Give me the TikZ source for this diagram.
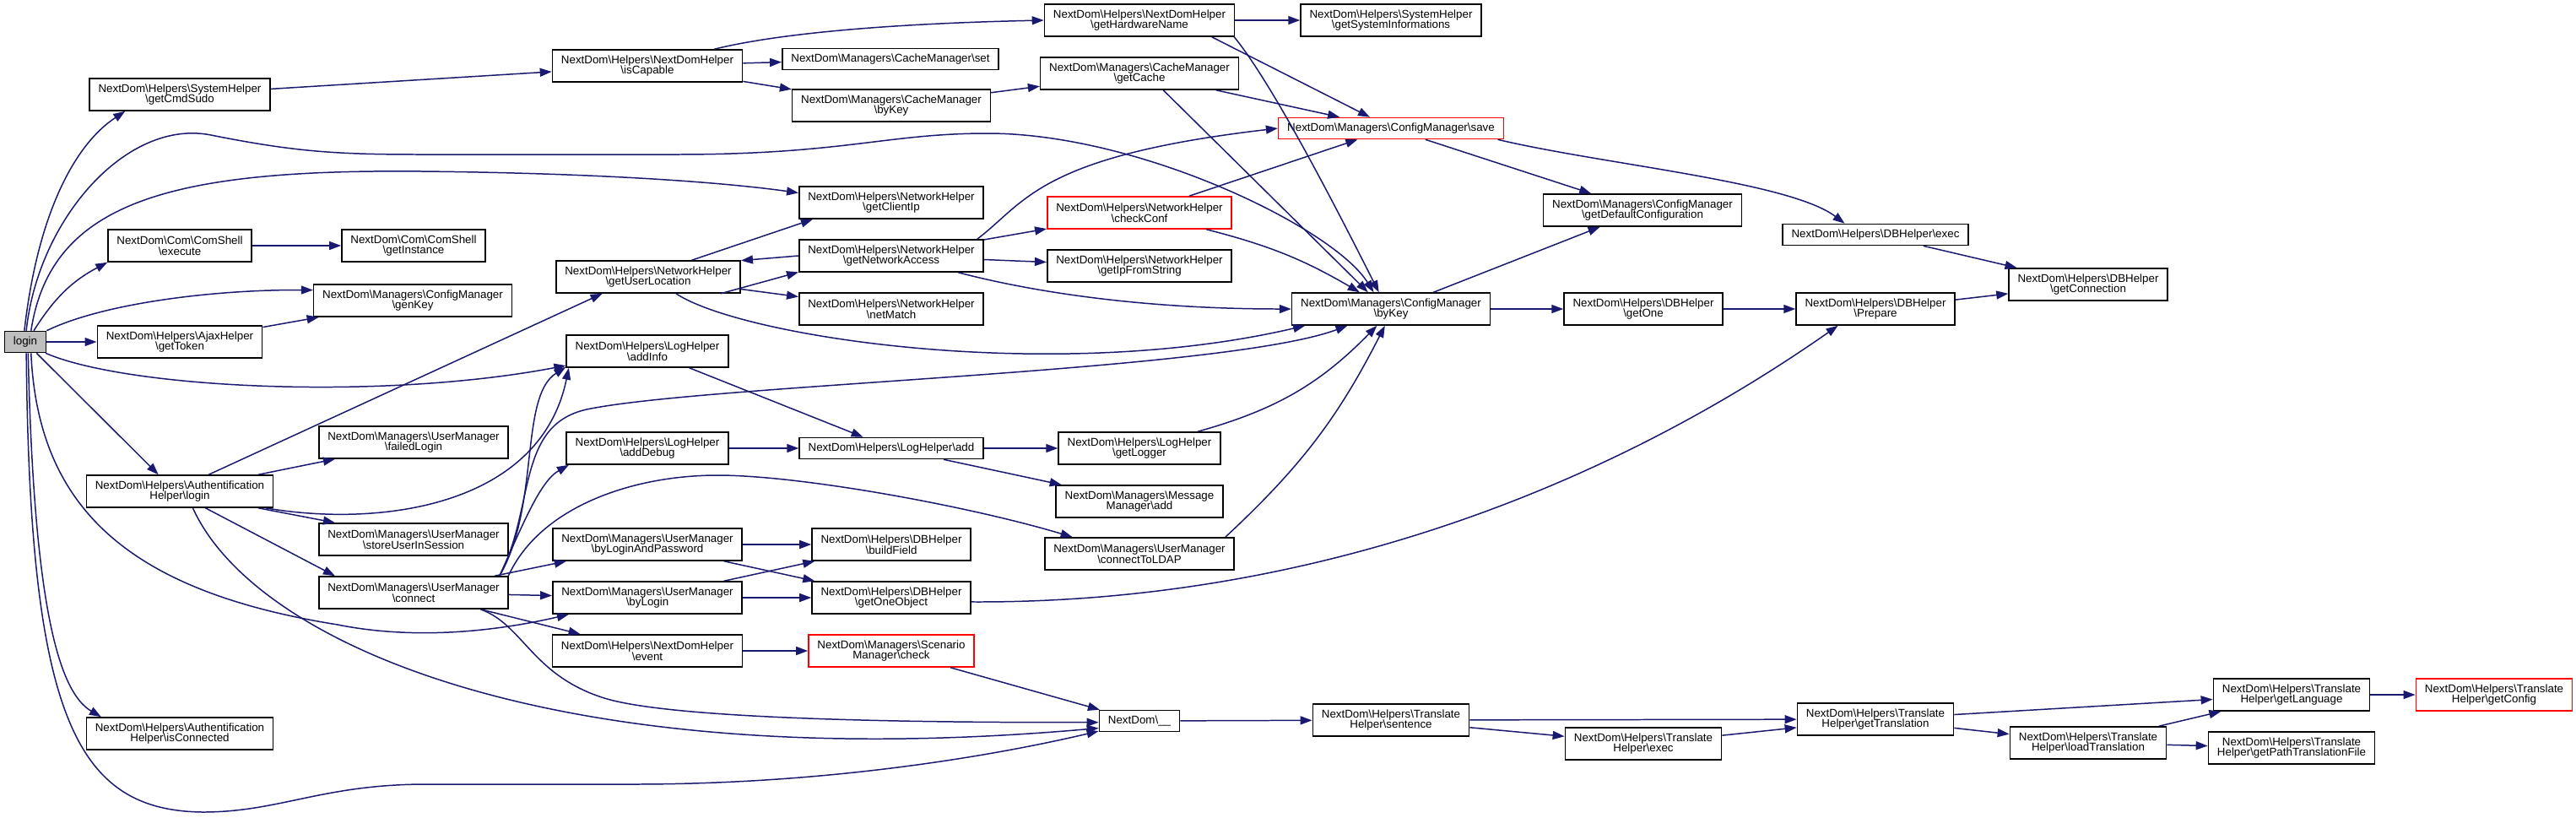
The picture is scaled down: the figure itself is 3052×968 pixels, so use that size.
\documentclass[tikz,border=0pt]{standalone}
\usepackage{fontspec}
\setmainfont{Liberation Sans}
\usetikzlibrary{arrows.meta}

\definecolor{edgeblue}{HTML}{191970}
\definecolor{loginfill}{HTML}{BFBFBF}
\newcommand{\bs}{\textbackslash}

\begin{document}
\begin{tikzpicture}[
    x=0.02cm, y=-0.02cm,
    >={Triangle[length=0.28cm, width=0.2cm]},
    func/.style={draw=black, line width=0.9pt, fill=white, align=center,
        font=\fontsize{7.6pt}{7.2pt}\selectfont,
        inner xsep=0.21cm, inner ysep=0pt, minimum height=0.5cm},
    func2/.style={func, minimum height=0.76cm},
    hot/.style={draw=red},
    call/.style={->, draw=edgeblue, line width=0.85pt}
]
\useasboundingbox (0,0) rectangle (3052,968);

% ==================== NODES ====================
% Root
\node[func, fill=loginfill] (login) at (30,405) {login};

% First column
\node[func2] (cmdsudo) at (213,112) {NextDom\bs Helpers\bs SystemHelper\\\bs getCmdSudo};
\node[func2] (execute) at (213,291) {NextDom\bs Com\bs ComShell\\\bs execute};
\node[func2] (gettoken) at (213,405) {NextDom\bs Helpers\bs AjaxHelper\\\bs getToken};
\node[func2] (authlogin) at (213,582) {NextDom\bs Helpers\bs Authentification\\Helper\bs login};
\node[func2] (isconnected) at (213,869) {NextDom\bs Helpers\bs Authentification\\Helper\bs isConnected};

% Second column
\node[func2] (instance) at (490,291) {NextDom\bs Com\bs ComShell\\\bs getInstance};
\node[func2] (genkey) at (489,356) {NextDom\bs Managers\bs ConfigManager\\\bs genKey};
\node[func2] (failedlogin) at (490,524) {NextDom\bs Managers\bs UserManager\\\bs failedLogin};
\node[func2] (storeuser) at (490,639) {NextDom\bs Managers\bs UserManager\\\bs storeUserInSession};
\node[func2] (connect) at (490,702) {NextDom\bs Managers\bs UserManager\\\bs connect};

% Third column
\node[func2] (iscapable) at (767,78) {NextDom\bs Helpers\bs NextDomHelper\\\bs isCapable};
\node[func2] (userloc) at (768,328) {NextDom\bs Helpers\bs NetworkHelper\\\bs getUserLocation};
\node[func2] (addinfo) at (767,416) {NextDom\bs Helpers\bs LogHelper\\\bs addInfo};
\node[func2] (adddebug) at (767,531) {NextDom\bs Helpers\bs LogHelper\\\bs addDebug};
\node[func2] (byloginpw) at (767,645) {NextDom\bs Managers\bs UserManager\\\bs byLoginAndPassword};
\node[func2] (bylogin) at (767,708) {NextDom\bs Managers\bs UserManager\\\bs byLogin};
\node[func2] (event) at (767,771) {NextDom\bs Helpers\bs NextDomHelper\\\bs event};

% Fourth column
\node[func] (cacheset) at (1055,70) {NextDom\bs Managers\bs CacheManager\bs set};
\node[func2] (cachebykey) at (1056,125) {NextDom\bs Managers\bs CacheManager\\\bs byKey};
\node[func2] (clientip) at (1056,240) {NextDom\bs Helpers\bs NetworkHelper\\\bs getClientIp};
\node[func2] (netaccess) at (1056,303) {NextDom\bs Helpers\bs NetworkHelper\\\bs getNetworkAccess};
\node[func2] (netmatch) at (1056,366) {NextDom\bs Helpers\bs NetworkHelper\\\bs netMatch};
\node[func] (logadd) at (1056,531) {NextDom\bs Helpers\bs LogHelper\bs add};
\node[func2] (buildfield) at (1056,645) {NextDom\bs Helpers\bs DBHelper\\\bs buildField};
\node[func2] (oneobject) at (1056,708) {NextDom\bs Helpers\bs DBHelper\\\bs getOneObject};
\node[func2, hot] (scenario) at (1056,771) {NextDom\bs Managers\bs Scenario\\Manager\bs check};

% Fifth column
\node[func2] (hwname) at (1350,24) {NextDom\bs Helpers\bs NextDomHelper\\\bs getHardwareName};
\node[func2] (getcache) at (1350,87) {NextDom\bs Managers\bs CacheManager\\\bs getCache};
\node[func2, hot] (checkconf) at (1350,252) {NextDom\bs Helpers\bs NetworkHelper\\\bs checkConf};
\node[func2] (ipfromstr) at (1350,315) {NextDom\bs Helpers\bs NetworkHelper\\\bs getIpFromString};
\node[func2] (logger) at (1350,531) {NextDom\bs Helpers\bs LogHelper\\\bs getLogger};
\node[func2] (msgadd) at (1350,594) {NextDom\bs Managers\bs Message\\Manager\bs add};
\node[func2] (ldap) at (1350,656) {NextDom\bs Managers\bs UserManager\\\bs connectToLDAP};
\node[func] (translate) at (1350,854) {NextDom\bs\_\_};

% Sixth column
\node[func2] (sysinfo) at (1648,24) {NextDom\bs Helpers\bs SystemHelper\\\bs getSystemInformations};
\node[func, hot] (cfgsave) at (1648,152) {NextDom\bs Managers\bs ConfigManager\bs save};
\node[func2] (cfgbykey) at (1648,366) {NextDom\bs Managers\bs ConfigManager\\\bs byKey};
\node[func2] (sentence) at (1648,853) {NextDom\bs Helpers\bs Translate\\Helper\bs sentence};

% Seventh column
\node[func2] (defconf) at (1946,249) {NextDom\bs Managers\bs ConfigManager\\\bs getDefaultConfiguration};
\node[func2] (getone) at (1947,366) {NextDom\bs Helpers\bs DBHelper\\\bs getOne};
\node[func2] (trexec) at (1947,881) {NextDom\bs Helpers\bs Translate\\Helper\bs exec};

% Right part
\node[func] (dbexec) at (2222,278) {NextDom\bs Helpers\bs DBHelper\bs exec};
\node[func2] (prepare) at (2222,366) {NextDom\bs Helpers\bs DBHelper\\\bs Prepare};
\node[func2] (translation) at (2222,852) {NextDom\bs Helpers\bs Translate\\Helper\bs getTranslation};
\node[func2] (connection) at (2474,337) {NextDom\bs Helpers\bs DBHelper\\\bs getConnection};
\node[func2] (loadtr) at (2474,880) {NextDom\bs Helpers\bs Translate\\Helper\bs loadTranslation};
\node[func2] (language) at (2715,823) {NextDom\bs Helpers\bs Translate\\Helper\bs getLanguage};
\node[func2] (pathfile) at (2715,886) {NextDom\bs Helpers\bs Translate\\Helper\bs getPathTranslationFile};
\node[func2, hot] (getconfig) at (2955,823) {NextDom\bs Helpers\bs Translate\\Helper\bs getConfig};

% ==================== CALLS FROM LOGIN ====================
\draw[call] (login.95) .. controls (45,250) and (90,170) .. (cmdsudo.197);
\draw[call] (login.85) .. controls (45,260) and (150,140) .. (250,160)
    .. controls (350,180) and (400,183) .. (500,183) -- (800,183)
    .. controls (1000,183) and (1050,158) .. (1170,158)
    .. controls (1350,158) and (1580,270) .. (cfgbykey.136);
\draw[call] (login.63) .. controls (60,240) and (200,200) .. (500,203)
    .. controls (700,205) and (850,215) .. (clientip.174);
\draw[call] (login.53) to[bend left=15] (execute.193);
\draw[call] (login.north east) .. controls (120,360) and (250,343) .. (genkey.174);
\draw[call] (login) -- (gettoken);
\draw[call] (login.-29) .. controls (150,460) and (450,475) .. (addinfo.190);
\draw[call] (login.-45) -- (authlogin.142);
\draw[call] (login.-63) .. controls (45,600) and (150,700) .. (400,740)
    .. controls (500,760) and (600,745) .. (bylogin.192);
\draw[call] (login.-76) .. controls (40,720) and (70,820) .. (isconnected.168);
\draw[call] (login.-85) .. controls (35,850) and (90,960) .. (240,962)
    .. controls (330,962) and (380,930) .. (500,929) -- (750,929)
    .. controls (1000,929) and (1200,890) .. (translate.194);

% ==================== UPPER CALLS ====================
\draw[call] (cmdsudo) -- (iscapable);
\draw[call] (gettoken) -- (genkey);
\draw[call] (execute) -- (instance);
\draw[call] (iscapable.14) .. controls (920,40) and (1050,28) .. (hwname.west);
\draw[call] (iscapable) -- (cacheset);
\draw[call] (iscapable) -- (cachebykey);
\draw[call] (cachebykey) -- (getcache);
\draw[call] (hwname) -- (sysinfo);
\draw[call] (hwname.-13) -- (cfgsave.152);
\draw[call] (hwname.-10) .. controls (1500,90) and (1560,200) .. (cfgbykey.126);
\draw[call] (getcache) -- (cfgsave);
\draw[call] (getcache.-35) -- (cfgbykey.144);

% Network helper
\draw[call] (userloc.-13) -- (netaccess.190);
\draw[call] (netaccess.west) -- (userloc.10);
\draw[call] (userloc.21) -- (clientip.192);
\draw[call] (userloc) -- (netmatch);
\draw[call] (userloc.-31) .. controls (880,400) and (1250,455) .. (cfgbykey.191);
\draw[call] (netaccess) -- (checkconf);
\draw[call] (netaccess) -- (ipfromstr);
\draw[call] (netaccess.11) .. controls (1215,240) and (1230,185) .. (cfgsave.west);
\draw[call] (netaccess.-14) .. controls (1220,345) and (1350,366) .. (cfgbykey.west);
\draw[call] (checkconf) -- (cfgsave);
\draw[call] (checkconf.-14) to[bend left=8] (cfgbykey.152);

% Config manager and database
\draw[call] (cfgsave) -- (defconf);
\draw[call] (cfgsave.-6) .. controls (1900,195) and (2120,215) .. (dbexec.160);
\draw[call] (cfgbykey) -- (defconf);
\draw[call] (cfgbykey) -- (getone);
\draw[call] (getone) -- (prepare);
\draw[call] (prepare) -- (connection);
\draw[call] (dbexec) -- (connection);
\draw[call] (oneobject.-3) .. controls (1550,715) and (1900,580) .. (prepare.204);

% ==================== AUTHENTIFICATION ====================
\draw[call] (authlogin.30) -- (userloc.200);
\draw[call] (authlogin.12) -- (failedlogin.192);
\draw[call] (authlogin.-12) -- (storeuser.168);
\draw[call] (authlogin.-33) -- (connect.168);
\draw[call] (authlogin.-11) .. controls (450,625) and (640,600) .. (addinfo.192);
\draw[call] (authlogin.-52) .. controls (300,760) and (650,920) .. (translate.190);

% User manager connect
\draw[call] (connect.11) .. controls (620,620) and (640,570) .. (adddebug.192);
\draw[call] (connect.11) .. controls (640,600) and (615,470) .. (addinfo.191);
\draw[call] (connect.11) .. controls (635,600) and (610,500) .. (700,484)
    .. controls (850,455) and (1450,440) .. (cfgbykey.201);
\draw[call] (connect.10) .. controls (640,600) and (750,563) .. (850,563)
    .. controls (950,563) and (1150,600) .. (ldap.166);
\draw[call] (connect) -- (byloginpw);
\draw[call] (connect) -- (bylogin);
\draw[call] (connect) -- (event);
\draw[call] (connect.-14) .. controls (620,740) and (630,800) .. (716,827)
    .. controls (800,853) and (1100,856) .. (translate.182);
\draw[call] (byloginpw) -- (buildfield);
\draw[call] (byloginpw) -- (oneobject);
\draw[call] (bylogin) -- (buildfield);
\draw[call] (bylogin) -- (oneobject);
\draw[call] (event) -- (scenario);
\draw[call] (scenario) -- (translate);
\draw[call] (ldap.11) to[bend right=10] (cfgbykey.250);

% Log helper
\draw[call] (addinfo) -- (logadd);
\draw[call] (adddebug) -- (logadd);
\draw[call] (logadd) -- (logger);
\draw[call] (logadd) -- (msgadd);
\draw[call] (logger.16) to[bend right=15] (cfgbykey.230);

% ==================== TRANSLATION ====================
\draw[call] (translate) -- (sentence);
\draw[call] (sentence) -- (translation);
\draw[call] (sentence) -- (trexec);
\draw[call] (trexec) -- (translation);
\draw[call] (translation) -- (language);
\draw[call] (translation) -- (loadtr);
\draw[call] (loadtr) -- (language);
\draw[call] (loadtr) -- (pathfile);
\draw[call] (language) -- (getconfig);

\end{tikzpicture}
\end{document}
